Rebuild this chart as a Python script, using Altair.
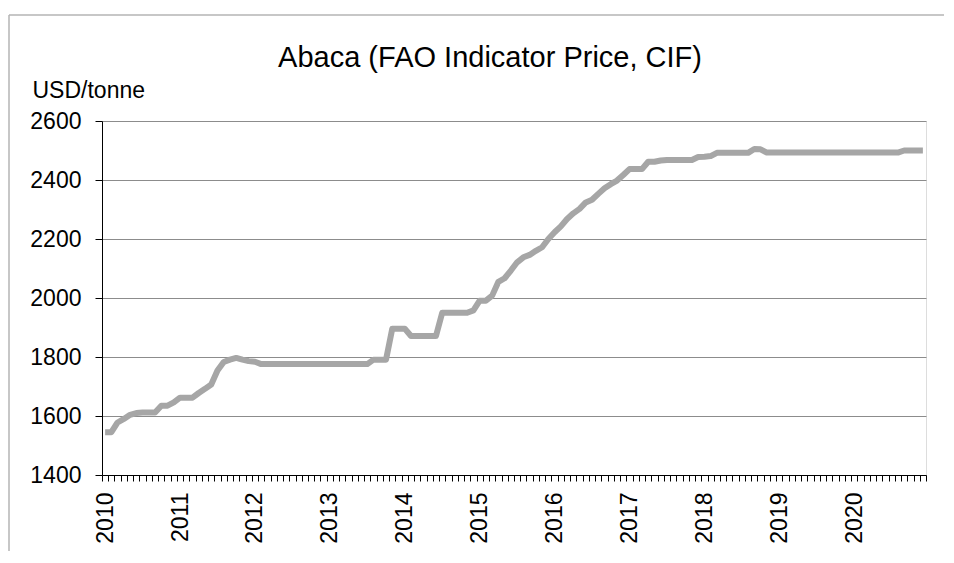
import altair as alt
import pandas as pd

years = list(range(2010, 2021))
month_nums = list(range(1, 13))

price = [
    # 2010
    1545, 1545, 1578, 1590, 1604, 1610, 1612, 1612, 1612, 1635, 1635, 1646,
    # 2011
    1662, 1662, 1662, 1678, 1692, 1707, 1754, 1783, 1791, 1797, 1791, 1786,
    # 2012
    1784, 1776, 1776, 1776, 1776, 1776, 1776, 1776, 1776, 1776, 1776, 1776,
    # 2013
    1776, 1776, 1776, 1776, 1776, 1776, 1776, 1791, 1791, 1791, 1896, 1896,
    # 2014
    1896, 1871, 1871, 1871, 1871, 1871, 1950, 1950, 1950, 1950, 1950, 1958,
    # 2015
    1991, 1991, 2008, 2055, 2067, 2093, 2121, 2138, 2146, 2160, 2172, 2200,
    # 2016
    2223, 2243, 2268, 2287, 2302, 2324, 2333, 2353, 2372, 2386, 2398, 2417,
    # 2017
    2437, 2437, 2437, 2462, 2462, 2466, 2468, 2468, 2468, 2468, 2468, 2478,
    # 2018
    2479, 2481, 2492, 2492, 2492, 2492, 2492, 2492, 2505, 2504, 2493, 2493,
    # 2019
    2493, 2493, 2493, 2493, 2493, 2493, 2493, 2493, 2493, 2493, 2493, 2493,
    # 2020
    2493, 2493, 2493, 2493, 2493, 2493, 2493, 2493, 2500, 2500, 2500, 2500,
]
y_ticks = [1400, 1600, 1800, 2000, 2200, 2400, 2600]

months = [f"{y}-{m:02d}" for y in years for m in month_nums]
df = pd.DataFrame({"month": months, "price": price})

FONT = "Liberation Sans"

line = alt.Chart(df).mark_line(color="#A6A6A6", strokeWidth=6, strokeJoin="round").encode(
    x=alt.X(
        "month:O",
        sort=None,
        scale=alt.Scale(type="band", paddingInner=0, paddingOuter=0),
        axis=alt.Axis(
            title=None,
            tickBand="extent",
            labelExpr="substring(datum.value,5,7)=='01' ? substring(datum.value,0,4) : ''",
            labelAngle=270,
            labelAlign="right",
            labelBaseline="middle",
            labelOverlap=False,
            labelFontSize=23,
            labelFont=FONT,
            labelColor="#000000",
            labelPadding=11,
            tickSize=6,
            tickColor="#000000",
            domainColor="#000000",
            grid=False,
        ),
    ),
    y=alt.Y(
        "price:Q",
        scale=alt.Scale(domain=[1400, 2600], nice=False, zero=False),
        axis=alt.Axis(
            values=y_ticks,
            format="d",
            title="USD/tonne",
            titleAngle=0,
            titleAlign="left",
            titleBaseline="alphabetic",
            titleX=-70,
            titleY=-24,
            titleFontSize=23,
            titleFont=FONT,
            titleFontWeight="normal",
            titleColor="#000000",
            grid=True,
            gridColor="#8C8C8C",
            gridWidth=1,
            tickSize=7,
            tickColor="#000000",
            domainColor="#000000",
            labelFontSize=23,
            labelFont=FONT,
            labelColor="#000000",
            labelPadding=14,
        ),
    ),
)

frame_df = pd.DataFrame({"k": [0]})
top_rule = alt.Chart(frame_df).mark_rule(color="#B4B4B4", strokeWidth=1.5).encode(
    x=alt.value(-93), x2=alt.value(852), y=alt.value(-106)
)
left_rule = alt.Chart(frame_df).mark_rule(color="#B4B4B4", strokeWidth=1.5).encode(
    x=alt.value(-93), y=alt.value(-106), y2=alt.value(460)
)

chart = alt.layer(top_rule, left_rule, line).properties(
    width=824,
    height=354,
    autosize=alt.AutoSizeParams(type="none"),
    padding={"left": 94, "top": 113, "right": 18, "bottom": 76},
    title=alt.TitleParams(
        "Abaca (FAO Indicator Price, CIF)",
        fontSize=29,
        font=FONT,
        fontWeight="normal",
        color="#000000",
        anchor="middle",
        dx=-24,
        baseline="alphabetic",
        offset=-82,
    ),
).configure_view(stroke="#000000", strokeWidth=1).configure(background="white")

chart.save("out.html", embed_options={"renderer": "svg", "actions": False})
